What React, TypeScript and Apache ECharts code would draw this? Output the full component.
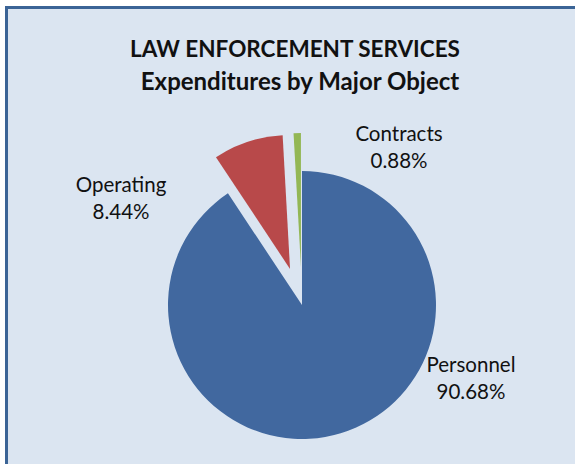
import React, { useEffect, useRef } from "react";
import * as echarts from "echarts";

const titleLines = ["LAW ENFORCEMENT SERVICES", "Expenditures by Major Object"];
const categories = ["Personnel", "Operating", "Contracts"];
const shares = [90.68, 8.44, 0.88];
const exploded = [false, true, true];
const colors = ["#41689f", "#b8494a", "#93b755"];

const labelPos: [number, number][] = [
  [471, 377],
  [121, 197],
  [399, 146],
];

export default function App() {
  const ref = useRef<HTMLDivElement>(null);
  useEffect(() => {
    document.body.style.margin = "0";
    const chart = echarts.init(ref.current!, undefined, { renderer: "svg" });
    const labelTexts = categories.map((c, i) => ({
      type: "text",
      x: labelPos[i][0],
      y: labelPos[i][1],
      z: 10,
      style: {
        text: `${c}\n${shares[i].toFixed(2)}%`,
        fontFamily: "Lato",
        fontSize: 20.5,
        lineHeight: 27,
        fill: "#111111",
        align: "center",
        verticalAlign: "middle",
      },
    }));
    const titleStyle = {
      fontFamily: "Lato",
      fontWeight: 700,
      color: "#111111",
    };
    chart.setOption({
      animation: false,
      backgroundColor: "#ffffff",
      title: [
        {
          text: titleLines[0],
          left: 295,
          top: 35,
          textAlign: "center",
          padding: 0,
          textStyle: { ...titleStyle, fontSize: 22.5, lineHeight: 26 },
        },
        {
          text: titleLines[1],
          left: 300,
          top: 66,
          textAlign: "center",
          padding: 0,
          textStyle: { ...titleStyle, fontSize: 24, lineHeight: 28 },
        },
      ],
      graphic: [
        {
          type: "rect",
          z: -10,
          shape: { x: 6.5, y: 7.5, width: 600, height: 500 },
          style: { fill: "#dbe5f1", stroke: "#3b6496", lineWidth: 3 },
        },
        ...labelTexts,
      ],
      series: [
        {
          type: "pie",
          center: [302, 305],
          radius: 134,
          startAngle: 90,
          clockwise: true,
          selectedMode: "multiple",
          selectedOffset: 38,
          emphasis: { disabled: true },
          labelLine: { show: false },
          label: { show: false },
          data: categories.map((c, i) => ({
            name: c,
            value: shares[i],
            selected: exploded[i],
            itemStyle: { color: colors[i] },
          })),
        },
      ],
    });
    return () => chart.dispose();
  }, []);
  return <div ref={ref} style={{ width: 575, height: 464 }} />;
}
